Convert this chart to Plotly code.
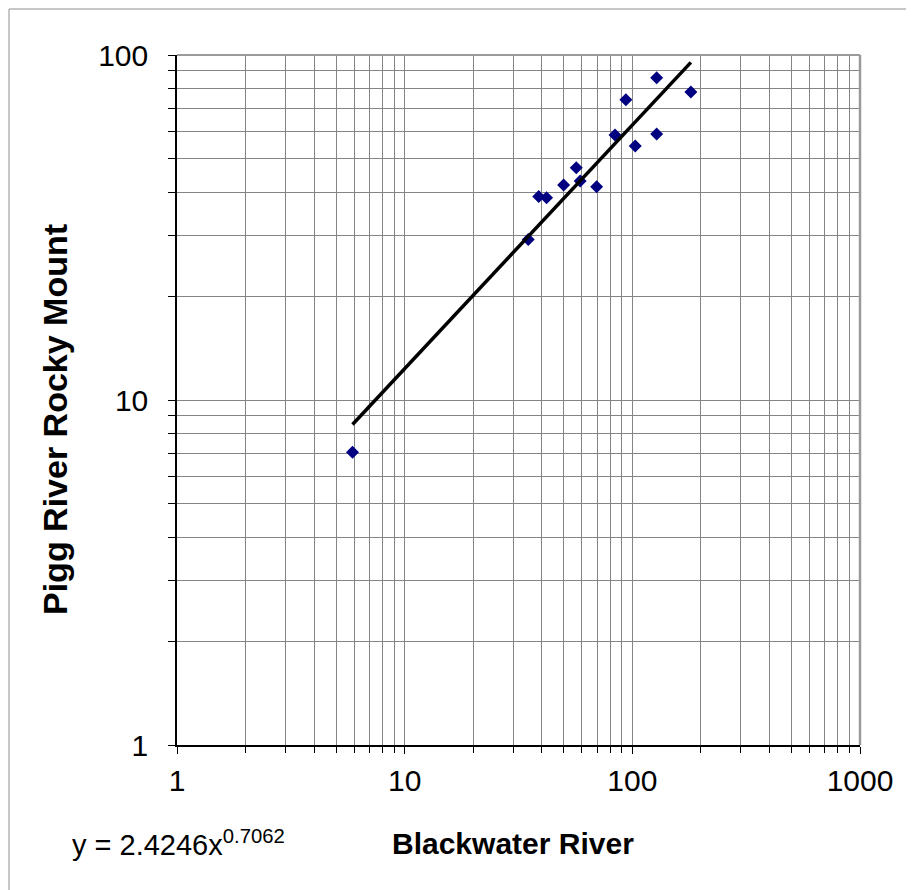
import numpy as np
import plotly.graph_objects as go

# Data
blackwater = [5.9, 34.9, 38.8, 42.0, 49.9, 56.7, 59.0, 69.7, 83.9, 93.7, 103.0, 127.9, 127.9, 180.8]
pigg = [7.05, 29.2, 38.9, 38.6, 42.0, 47.1, 43.1, 41.5, 58.6, 74.2, 54.5, 85.9, 59.0, 78.1]

# Power trendline y = a * x^b
trend_a = 2.4246
trend_b = 0.7062

x_ticks = [1, 10, 100, 1000]
x_tick_text = ["1", "10", "100", "1000"]
y_ticks = [1, 10, 100]
y_tick_text = ["1", "10", "100"]
x_minor = [m * d for d in [1, 10, 100] for m in range(2, 10)]
y_minor = [m * d for d in [1, 10] for m in range(2, 10)]

equation_text = "y = 2.4246x<sup>0.7062</sup>"
x_title = "Blackwater River"
y_title = "Pigg River Rocky Mount"

OFF = 8  # page body margin
W, H = 914 - OFF, 890 - OFF
L, R, T, B = 177, 860, 55, 745  # screen pixels of plot area
pw, ph = R - L, B - T

def px(xpix):
    return (xpix - L) / pw

def py(ypix):
    return (B - ypix) / ph

trend_x = np.geomspace(min(blackwater), max(blackwater), 50)
trend_y = trend_a * trend_x ** trend_b

FONT = "Liberation Sans, Arial, sans-serif"
GRID = "#858585"

fig = go.Figure()
fig.add_trace(go.Scatter(
    x=blackwater, y=pigg, mode="markers",
    marker=dict(symbol="diamond", size=10, color="#000080"),
    showlegend=False,
))
fig.add_trace(go.Scatter(
    x=trend_x, y=trend_y, mode="lines",
    line=dict(color="black", width=3.5),
    showlegend=False,
))

axis_common = dict(
    type="log",
    showline=True, linecolor="black", linewidth=1.5,
    ticks="outside", ticklen=7, tickcolor="black", tickwidth=1,
    showgrid=True, gridcolor=GRID, gridwidth=1,
    zeroline=False,
    tickfont=dict(family=FONT, size=30, color="black"),
    tickmode="array",
)

fig.update_xaxes(
    **axis_common,
    range=[0, 3],
    tickvals=x_ticks, ticktext=x_tick_text,
    minor=dict(tickmode="array", tickvals=x_minor, ticks="outside", ticklen=6,
               tickcolor="black", showgrid=True, gridcolor=GRID, gridwidth=1),
    ticklabelstandoff=1,
)
fig.update_yaxes(
    **axis_common,
    range=[0, 2],
    tickvals=y_ticks, ticktext=y_tick_text,
    minor=dict(tickmode="array", tickvals=y_minor, ticks="outside", ticklen=7,
               tickcolor="black", showgrid=True, gridcolor=GRID, gridwidth=1),
    ticklabelstandoff=14,
)

shapes = [
    # plot-area top and right borders (grey)
    dict(type="line", xref="paper", yref="paper", x0=0, x1=1, y0=1, y1=1,
         line=dict(color="#9a9a9a", width=2)),
    dict(type="line", xref="paper", yref="paper", x0=1, x1=1, y0=0, y1=1,
         line=dict(color="#9a9a9a", width=2.5)),
    # outer chart border (left and top visible)
    dict(type="line", xref="paper", yref="paper", x0=px(9), x1=px(930), y0=py(9), y1=py(9),
         line=dict(color="#b4b4b4", width=1.5)),
    dict(type="line", xref="paper", yref="paper", x0=px(9), x1=px(9), y0=py(9), y1=py(900),
         line=dict(color="#b4b4b4", width=1.5)),
]

annotations = [
    dict(text=equation_text, xref="paper", yref="paper", x=px(70), y=py(843),
         xanchor="left", yanchor="middle", showarrow=False,
         font=dict(family=FONT, size=29, color="black")),
    dict(text="<b>" + x_title + "</b>", xref="paper", yref="paper", x=px(513), y=py(843),
         xanchor="center", yanchor="middle", showarrow=False,
         font=dict(family=FONT, size=30, color="black")),
    dict(text="<b>" + y_title + "</b>", xref="paper", yref="paper", x=px(55), y=py(420),
         xanchor="center", yanchor="middle", showarrow=False, textangle=-90,
         font=dict(family=FONT, size=34, color="black")),
]

fig.update_layout(
    width=W, height=H,
    margin=dict(l=L - OFF, r=W - (R - OFF), t=T - OFF, b=H - (B - OFF), pad=0),
    paper_bgcolor="white", plot_bgcolor="white",
    shapes=shapes, annotations=annotations,
)

fig.write_html("out.html")
